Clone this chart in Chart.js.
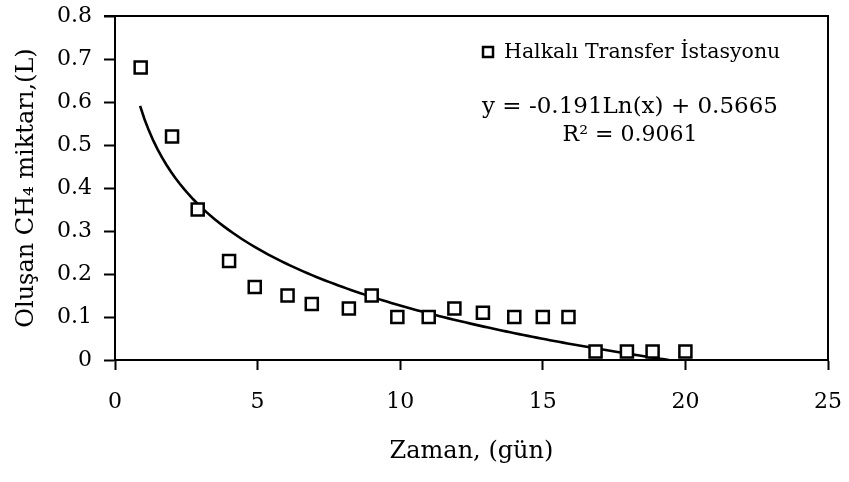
<!DOCTYPE html>
<html>
<head>
<meta charset="utf-8">
<script src="https://cdn.jsdelivr.net/npm/chart.js@4.4.0/dist/chart.umd.min.js"></script>
<style>
  html, body { margin: 0; padding: 0; background: #ffffff; }
  #c { display: block; }
</style>
</head>
<body>
<canvas id="c" width="849" height="482"></canvas>
<script>
// ---- data ----
const days = [0.9, 2.0, 2.9, 4.0, 4.9, 6.05, 6.9, 8.2, 9.0, 9.9, 11.0, 11.9, 12.9, 14.0, 15.0, 15.9, 16.85, 17.95, 18.85, 20.0];
const ch4Litres = [0.68, 0.52, 0.35, 0.23, 0.17, 0.15, 0.13, 0.12, 0.15, 0.10, 0.10, 0.12, 0.11, 0.10, 0.10, 0.10, 0.02, 0.02, 0.02, 0.02];
const xTickValues = [0, 5, 10, 15, 20, 25];
const yTickValues = [0, 0.1, 0.2, 0.3, 0.4, 0.5, 0.6, 0.7, 0.8];
// logarithmic trend line printed on the chart: y = a*Ln(x) + b
const trendCoefficients = [-0.191, 0.5665];
const trendRange = [0.88, 19.42];
const seriesName = 'Halkalı Transfer İstasyonu';
const equationText = 'y = -0.191Ln(x) + 0.5665';
const rSquaredText = 'R² = 0.9061';
const xTitle = 'Zaman, (gün)';
const yTitle = 'Oluşan CH₄ miktarı,(L)';

const FONT = '"DejaVu Serif", "Liberation Serif", serif';

// trend line samples from the printed equation
const trendPoints = [];
{
  const n = 120;
  for (let i = 0; i <= n; i++) {
    const x = trendRange[0] + (trendRange[1] - trendRange[0]) * i / n;
    trendPoints.push({ x: x, y: trendCoefficients[0] * Math.log(x) + trendCoefficients[1] });
  }
}
const scatterPoints = days.map((d, i) => ({ x: d, y: ch4Litres[i] }));

const framePlugin = {
  id: 'frame',
  beforeDatasetsDraw(chart) {
    const { ctx, chartArea: a } = chart;
    ctx.save();
    ctx.strokeStyle = '#000';
    ctx.lineWidth = 2;
    ctx.beginPath();
    ctx.moveTo(a.left - 11, a.top);
    ctx.lineTo(a.right, a.top);
    ctx.lineTo(a.right, a.bottom);
    ctx.stroke();
    ctx.restore();
  },
  afterDraw(chart) {
    const { ctx, chartArea: a } = chart;
    ctx.save();
    ctx.fillStyle = '#000';
    ctx.textBaseline = 'middle';
    // legend
    const lx = a.left + 373, ly = a.top + 36;
    ctx.strokeStyle = '#000';
    ctx.lineWidth = 2.5;
    ctx.fillStyle = '#fff';
    ctx.fillRect(lx - 5, ly - 5, 10, 10);
    ctx.strokeRect(lx - 5, ly - 5, 10, 10);
    ctx.fillStyle = '#000';
    ctx.font = '20.5px ' + FONT;
    ctx.textAlign = 'left';
    ctx.fillText(seriesName, lx + 16, ly + 1);
    // equation
    ctx.textAlign = 'center';
    ctx.font = '23px ' + FONT;
    ctx.fillText(equationText, a.left + 515, a.top + 91);
    ctx.font = '22px ' + FONT;
    ctx.fillText(rSquaredText, a.left + 515, a.top + 119);
    ctx.restore();
  }
};

new Chart(document.getElementById('c'), {
  type: 'scatter',
  data: {
    datasets: [
      {
        label: seriesName,
        data: scatterPoints,
        pointStyle: 'rect',
        pointRadius: 8.5,
        pointHoverRadius: 8.5,
        pointBackgroundColor: '#ffffff',
        pointBorderColor: '#000000',
        pointBorderWidth: 2.5,
        showLine: false,
        order: 1
      },
      {
        type: 'line',
        label: 'Log. trend',
        data: trendPoints,
        borderColor: '#000000',
        borderWidth: 2.6,
        pointRadius: 0,
        fill: false,
        tension: 0,
        order: 2
      }
    ]
  },
  options: {
    responsive: false,
    animation: false,
    events: [],
    layout: { padding: { top: 16, right: 21, left: 0, bottom: 0 } },
    plugins: {
      legend: { display: false },
      tooltip: { enabled: false }
    },
    scales: {
      x: {
        type: 'linear',
        min: 0,
        max: 25,
        afterBuildTicks(scale) { scale.ticks = xTickValues.map(v => ({ value: v })); },
        afterFit(scale) {
          scale.height = 122;
          scale.paddingLeft = 0; scale.paddingRight = 0;
          scale.paddingTop = 0; scale.paddingBottom = 0;
        },
        grid: {
          drawOnChartArea: false,
          drawTicks: true,
          tickLength: 10,
          tickWidth: 2,
          tickColor: '#000'
        },
        border: { display: true, color: '#000', width: 2 },
        ticks: {
          color: '#000',
          padding: 19,
          maxRotation: 0,
          font: { family: FONT, size: 22 },
          callback: v => String(v)
        },
        title: {
          display: true,
          text: xTitle,
          color: '#000',
          font: { family: FONT, size: 24 },
          padding: { top: 0, bottom: 16 }
        }
      },
      y: {
        type: 'linear',
        min: 0,
        max: 0.8,
        afterBuildTicks(scale) { scale.ticks = yTickValues.map(v => ({ value: v })); },
        afterFit(scale) {
          scale.width = 115;
          scale.paddingLeft = 0; scale.paddingRight = 0;
          scale.paddingTop = 0; scale.paddingBottom = 0;
        },
        grid: {
          drawOnChartArea: false,
          drawTicks: true,
          tickLength: 11,
          tickWidth: 2,
          tickColor: '#000'
        },
        border: { display: true, color: '#000', width: 2 },
        ticks: {
          color: '#000',
          padding: 12,
          font: { family: FONT, size: 22 },
          callback: v => (v === 0 ? '0' : Number(v).toFixed(1))
        },
        title: {
          display: true,
          text: yTitle,
          color: '#000',
          font: { family: FONT, size: 24 },
          padding: { top: 12, bottom: 0 }
        }
      }
    }
  },
  plugins: [framePlugin]
});
</script>
</body>
</html>
